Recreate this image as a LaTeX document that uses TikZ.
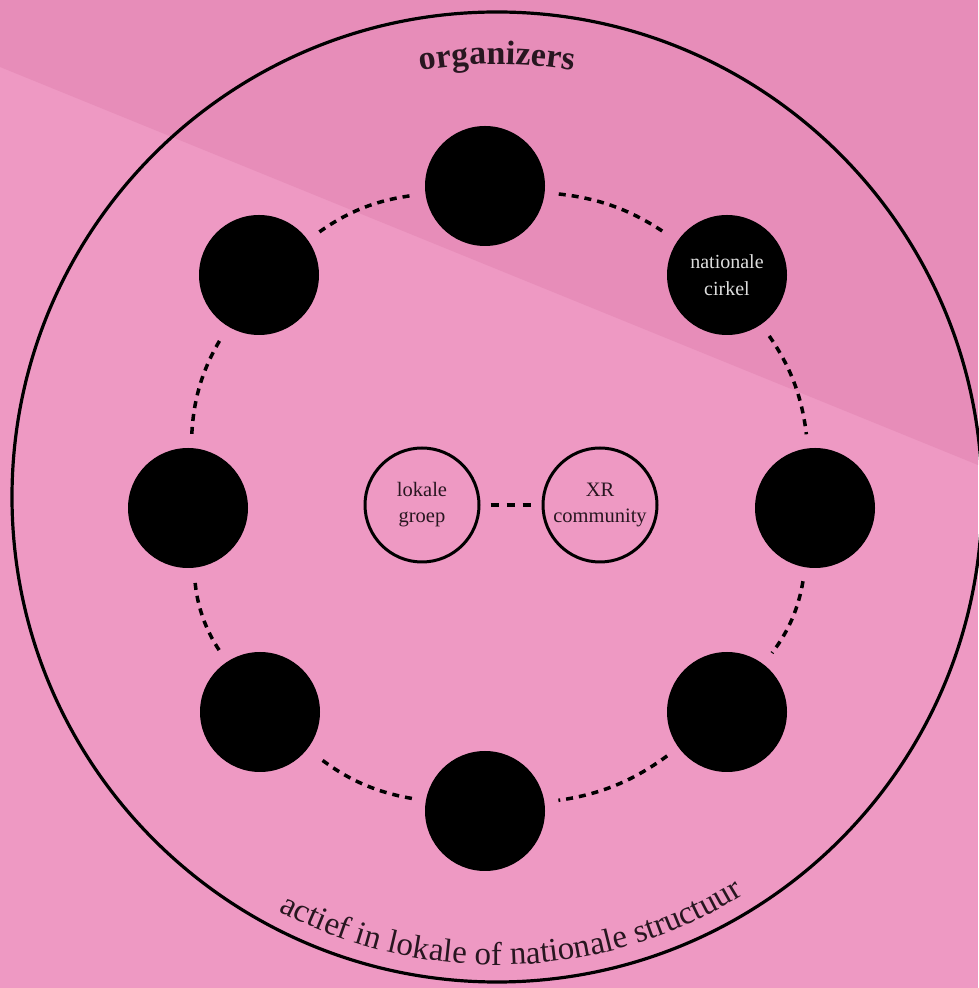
\documentclass[tikz,border=0pt]{standalone}
\usepackage{fontspec}
\setmainfont{Liberation Serif}
\usetikzlibrary{decorations.text}
\definecolor{bglight}{RGB}{238,153,195}
\definecolor{bgdark}{RGB}{231,141,185}
\definecolor{inktext}{RGB}{40,22,32}
\definecolor{lighttext}{RGB}{222,222,222}
\begin{document}
\begin{tikzpicture}[x=1pt,y=1pt,
  ringnode/.style={circle, fill=black, minimum size=120pt, inner sep=0pt, align=center, text=lighttext, font=\fontsize{20}{27}\selectfont},
  innernode/.style={circle, draw=black, line width=3pt, minimum size=114pt, inner sep=0pt, align=center, text=inktext, font=\fontsize{20.5}{26}\selectfont},
  link/.style={line width=3.5pt, dash pattern=on 7pt off 6pt, shorten >=14pt, shorten <=14pt, bend left=14}]
\fill[bglight] (0,0) rectangle (978,988);
\fill[bgdark] (0,921) -- (978,523) -- (978,988) -- (0,988) -- cycle;
\useasboundingbox (0,0) rectangle (978,988);
\node[circle, draw=black, line width=3.2pt, minimum size=970pt, inner sep=0pt] (outer) at (497,491) {};
% ring of circles
\node[ringnode] (top) at (485,802) {};
\node[ringnode] (tr) at (727,713) {nationale\\cirkel};
\node[ringnode] (right) at (815,480) {};
\node[ringnode] (br) at (727,276) {};
\node[ringnode] (bottom) at (485,177) {};
\node[ringnode] (bl) at (260,276) {};
\node[ringnode] (left) at (188,480) {};
\node[ringnode] (tl) at (259,713) {};
% inner circles
\node[innernode] (lg) at (422,483) {lokale\\groep};
\node[innernode] (xr) at (600,483) {XR\\community};
% connectors
\draw[link] (top) to (tr);
\draw[link] (tr) to (right);
\draw[link] (right) to (br);
\draw[link] (br) to (bottom);
\draw[link] (bottom) to (bl);
\draw[link] (bl) to (left);
\draw[link] (left) to (tl);
\draw[link] (tl) to (top);
\draw[line width=3.5pt, dash pattern=on 8pt off 8pt, shorten >=11pt, shorten <=10pt] (lg) -- (xr);
% curved labels
\path[decorate, decoration={text along path, text={|\fontsize{34}{38}\selectfont\bfseries|organizers}, text align=center, text color=inktext}]
  (497,491) ++(115:433) arc[start angle=115, end angle=65, radius=433];
\path[decorate, decoration={text along path, text={|\fontsize{33}{37}\selectfont|actief in lokale of nationale structuur}, text align=center, text color=inktext}]
  (497,491) ++(224:468) arc[start angle=224, end angle=320, radius=468];
\end{tikzpicture}
\end{document}
